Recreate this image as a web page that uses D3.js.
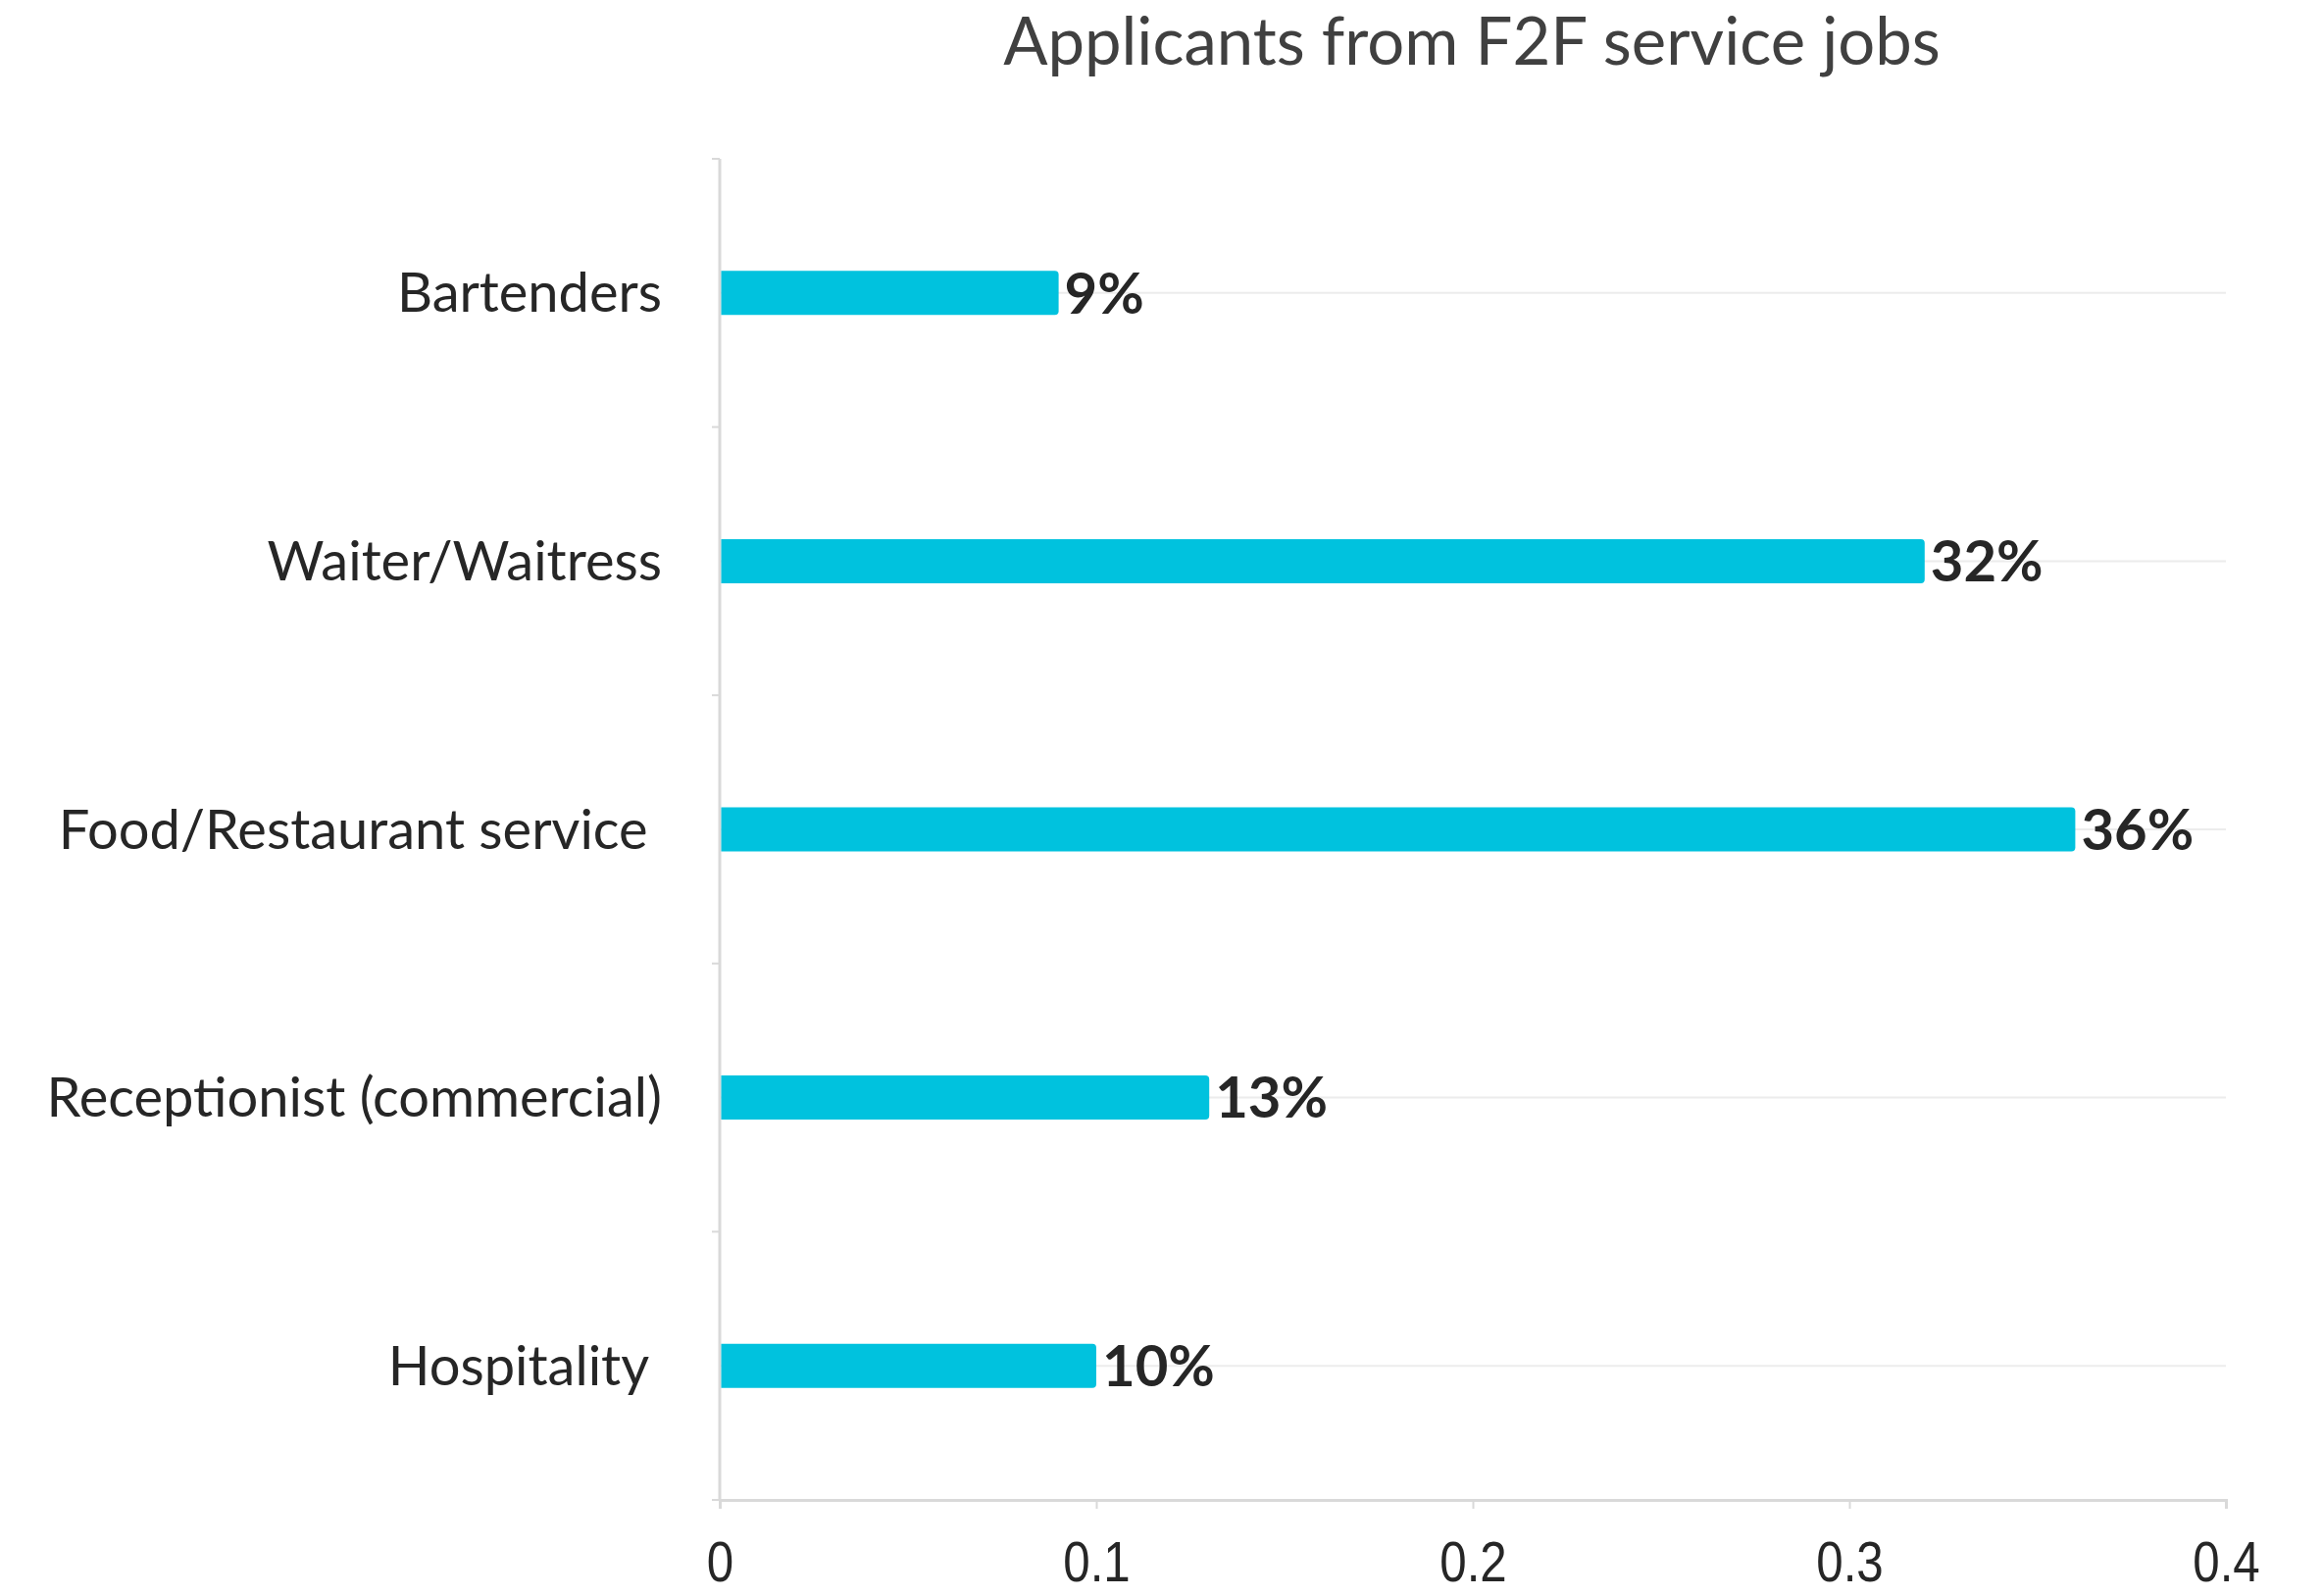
<!DOCTYPE html>
<html>
<head>
<meta charset="utf-8">
<script src="https://cdn.jsdelivr.net/npm/d3@7"></script>
<style>
  html, body { margin: 0; padding: 0; background: #fff; }
  svg { display: block; }
</style>
</head>
<body>
<svg id="chart" width="2368" height="1628"></svg>
<script>
// Job categories, top to bottom
const categories = [
  "Bartenders",
  "Waiter/Waitress",
  "Food/Restaurant service ",
  "Receptionist (commercial)",
  "Hospitality "
];
// Share of applicants coming from each job
const shares = [0.09, 0.32, 0.36, 0.13, 0.10];
const valueLabels = ["9%", "32%", "36%", "13%", "10%"];
const xTicks = [0, 0.1, 0.2, 0.3, 0.4];
const title = "Applicants from F2F service jobs";

const svg = d3.select("#chart");
const margin = { top: 162, right: 98, bottom: 98, left: 734 };
const W = 2368, H = 1628;
const innerW = W - margin.left - margin.right;
const innerH = H - margin.top - margin.bottom;

const labelFont = "Lato, 'Noto Sans', sans-serif";

const x = d3.scaleLinear().domain([0, 0.4]).range([0, innerW]);
const y = d3.scaleBand().domain(categories).range([0, innerH]);

const g = svg.append("g").attr("transform", `translate(${margin.left},${margin.top})`);

// Title
svg.append("text")
  .attr("x", 1501)
  .attr("y", 66)
  .attr("text-anchor", "middle")
  .attr("font-family", labelFont)
  .attr("font-size", 67)
  .attr("fill", "#404040")
  .text(title);

// Horizontal gridlines through each category centre
g.append("g")
  .selectAll("line")
  .data(categories)
  .join("line")
  .attr("x1", 0)
  .attr("x2", innerW)
  .attr("y1", d => y(d) + y.bandwidth() / 2)
  .attr("y2", d => y(d) + y.bandwidth() / 2)
  .attr("stroke", "#ececec")
  .attr("stroke-width", 2);

// Category axis: band boundaries as ticks, labels at centres
const bounds = categories.map(c => y(c)).concat([innerH]);
g.append("g")
  .selectAll("line")
  .data(bounds)
  .join("line")
  .attr("x1", -8)
  .attr("x2", 0)
  .attr("y1", d => d)
  .attr("y2", d => d)
  .attr("stroke", "#d9d9d9")
  .attr("stroke-width", 2);

g.append("line")
  .attr("x1", 0).attr("x2", 0)
  .attr("y1", 0).attr("y2", innerH)
  .attr("stroke", "#d9d9d9")
  .attr("stroke-width", 3);

g.append("g")
  .selectAll("text")
  .data(categories)
  .join("text")
  .attr("x", -59)
  .attr("y", d => y(d) + y.bandwidth() / 2)
  .attr("dy", "0.35em")
  .attr("text-anchor", "end")
  .attr("xml:space", "preserve")
  .style("white-space", "pre")
  .attr("font-family", labelFont)
  .attr("font-size", 56)
  .attr("fill", "#262626")
  .text(d => d);

// Bars with slightly rounded right ends
const barH = 45;
g.append("g")
  .selectAll("path")
  .data(categories.map((c, i) => ({ c, v: shares[i] })))
  .join("path")
  .attr("fill", "#00c2de")
  .attr("d", d => {
    const x0 = x(0) + 1.5, x1 = x(d.v);
    const yc = y(d.c) + y.bandwidth() / 2;
    const y0 = yc - barH / 2, y1 = yc + barH / 2, r = 4;
    return `M${x0},${y0}H${x1 - r}Q${x1},${y0} ${x1},${y0 + r}V${y1 - r}Q${x1},${y1} ${x1 - r},${y1}H${x0}Z`;
  });

// Value labels
g.append("g")
  .selectAll("text")
  .data(categories.map((c, i) => ({ c, v: shares[i], t: valueLabels[i] })))
  .join("text")
  .attr("x", d => x(d.v) + 6)
  .attr("y", d => y(d.c) + y.bandwidth() / 2)
  .attr("dy", "0.36em")
  .attr("font-family", labelFont)
  .attr("font-weight", "bold")
  .attr("font-size", 58)
  .attr("fill", "#262626")
  .text(d => d.t);

// Value axis along the bottom
const xAxis = g.append("g")
  .attr("transform", `translate(0,${innerH})`)
  .call(d3.axisBottom(x).tickValues(xTicks).tickSize(9).tickPadding(33).tickFormat(d3.format("")));
xAxis.select(".domain").attr("stroke", "#d9d9d9").attr("stroke-width", 3);
xAxis.selectAll(".tick line").attr("stroke", "#d9d9d9").attr("stroke-width", 2);
xAxis.selectAll(".tick text")
  .attr("font-family", "'Liberation Sans Narrow', 'Liberation Sans', Arial, sans-serif")
  .attr("font-size", 58)
  .attr("transform", "scale(0.85,1)")
  .attr("fill", "#262626");
</script>
</body>
</html>
